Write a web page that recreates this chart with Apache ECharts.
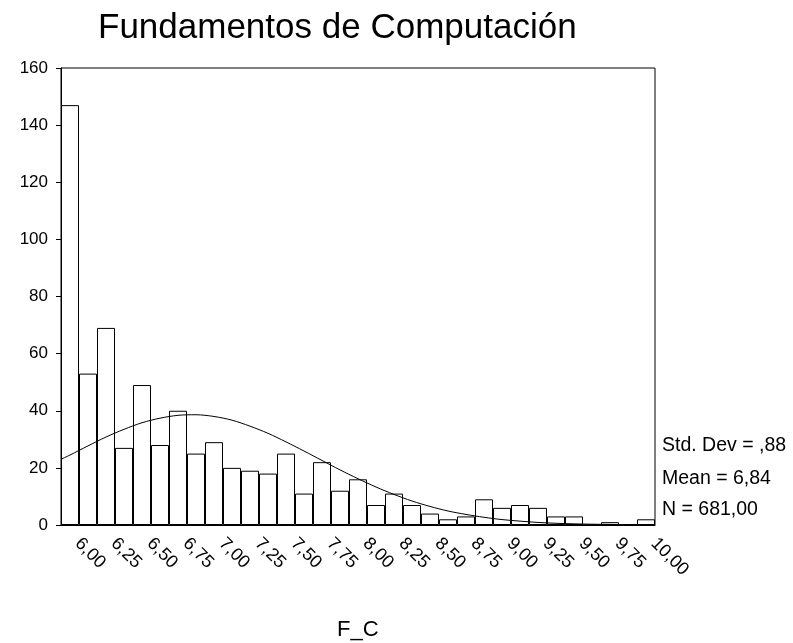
<!DOCTYPE html>
<html lang="es">
<head>
    <meta charset="UTF-8">
    <title>Fundamentos de Computación</title>
    <script src="https://cdn.jsdelivr.net/npm/echarts@6/dist/echarts.min.js"></script>
</head>
<body style="margin:0;background:#fff;">
    <div id="main" style="width:793px;height:643px;"></div>
    <script type="text/javascript">
        // histogram bins (centre of each 0,125 wide bin)
        var categories = ['6,00','6,13','6,25','6,38','6,50','6,63','6,75','6,88','7,00','7,13','7,25','7,38',
            '7,50','7,63','7,75','7,88','8,00','8,13','8,25','8,38','8,50','8,63','8,75','8,88',
            '9,00','9,13','9,25','9,38','9,50','9,63','9,75','9,88','10,00'];
        var counts = [147,53,69,27,49,28,40,25,29,20,19,18,25,11,22,12,16,7,11,7,4,2,3,9,6,7,6,3,3,0,1,0,2];

        // normal curve
        var curveX = [5.9375,6.0,6.125,6.25,6.375,6.5,6.625,6.75,6.875,7.0,7.125,7.25,7.375,7.5,7.625,7.75,
            7.875,8.0,8.125,8.25,8.375,8.5,8.625,8.75,8.875,9.0,9.25,9.5,9.75,10.0,10.0625];
        var curveY = [23,24.5,27.7,30.8,33.5,35.8,37.4,38.4,38.6,38.0,36.7,34.6,32.1,29.1,25.9,22.6,
            19.3,16.2,13.3,10.7,8.4,6.5,4.9,3.7,2.7,1.9,0.9,0.4,0.2,0.1,0.1];

        var stats = ['Std. Dev = ,88', 'Mean = 6,84', 'N = 681,00'];

        var curve = [];
        for (var i = 0; i < curveX.length; i++) {
            curve.push([curveX[i], curveY[i]]);
        }

        var font = 'Liberation Sans, Arial, sans-serif';
        var myChart = echarts.init(document.getElementById('main'));

        var statText = [];
        var statY = [446, 479, 510];
        for (var k = 0; k < stats.length; k++) {
            statText.push({
                type: 'text',
                x: 662,
                y: statY[k],
                style: { text: stats[k], fill: '#000', font: '19.5px ' + font, verticalAlign: 'middle' }
            });
        }
        statText.push({
            type: 'text',
            x: 337,
            y: 630,
            style: { text: 'F_C', fill: '#000', font: '22px ' + font, verticalAlign: 'middle' }
        });

        myChart.setOption({
            animation: false,
            title: {
                text: 'Fundamentos de Computación',
                left: 93,
                top: 6,
                textStyle: { fontFamily: font, fontSize: 35, fontWeight: 'normal', color: '#000' }
            },
            grid: {
                left: 61, right: 138, top: 68, bottom: 118,
                show: true, borderColor: '#000', borderWidth: 1
            },
            xAxis: [{
                type: 'category',
                data: categories,
                boundaryGap: true,
                axisLine: { lineStyle: { color: '#000', width: 1 } },
                axisTick: { alignWithLabel: true, interval: 1, length: 5, lineStyle: { color: '#000' } },
                axisLabel: {
                    interval: 1, rotate: -45, margin: 8, padding: [0, 0, 0, 11],
                    color: '#000', fontFamily: font, fontSize: 18
                }
            }, {
                type: 'value',
                min: 5.9375,
                max: 10.0625,
                show: false
            }],
            yAxis: {
                type: 'value',
                min: 0, max: 160, interval: 20,
                axisLine: { show: true, lineStyle: { color: '#000', width: 1 } },
                axisTick: { show: true, length: 5, lineStyle: { color: '#000' } },
                splitLine: { show: false },
                axisLabel: { margin: 13, color: '#000', fontFamily: font, fontSize: 17 }
            },
            series: [{
                type: 'bar',
                data: counts,
                barCategoryGap: '0%',
                itemStyle: { color: '#fff', borderColor: '#000', borderWidth: 1 }
            }, {
                type: 'line',
                xAxisIndex: 1,
                data: curve,
                smooth: 0.3,
                symbol: 'none',
                lineStyle: { color: '#000', width: 1 },
                z: 3
            }],
            graphic: statText
        });
    </script>
</body>
</html>
